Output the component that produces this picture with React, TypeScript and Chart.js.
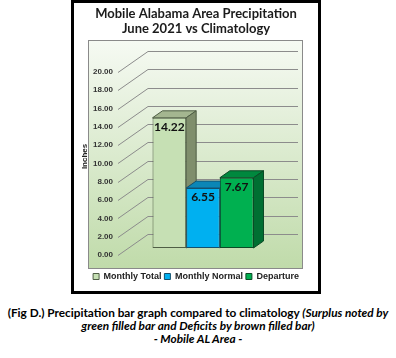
import React, { useEffect, useRef } from 'react';
import { Chart, registerables } from 'chart.js';

Chart.register(...registerables);

// ---------- data ----------
const CATEGORIES = ['June 2021'];
const SERIES_NAMES = ['Monthly Total', 'Monthly Normal', 'Departure'];
const MONTHLY_TOTAL = [14.22];
const MONTHLY_NORMAL = [6.55];
const DEPARTURE = [7.67];
const Y_MIN = 0;
const Y_MAX = 20;
const Y_STEP = 2;
const TITLE_LINES = ['Mobile Alabama Area Precipitation', 'June 2021 vs Climatology'];
const AXIS_TITLE = 'Inches';
const CAPTION_LINE1_PLAIN = '(Fig D.) Precipitation bar graph compared to climatology ';
const CAPTION_LINE1_ITALIC = '(Surplus noted by';
const CAPTION_LINE2 = 'green filled bar and Deficits by brown filled bar)';
const CAPTION_LINE3 = '- Mobile AL Area -';

// ---------- styles ----------
const FRONT = ['#c6e0b4', '#00b0f0', '#00b050'];
const TOP = ['#a4b690', '#0b86b6', '#00883e'];
const SIDE = ['#7f8e6c', '#086c94', '#006f32'];
const EDGE = ['#4f5e45', '#14506d', '#0b4a26'];
const BAR_DX = 10;
const BAR_DY = -7;
const WALL_DX = 30;
const WALL_DY = -21;
const LABEL_DROP = 7;
const GRID_RIGHT = 298;

const threeD = {
  id: 'threeD',
  beforeDraw(chart: any) {
    const ctx = chart.ctx;
    ctx.save();
    ctx.fillStyle = '#ffffff';
    ctx.fillRect(0, 0, chart.width, chart.height);
    const g = ctx.createLinearGradient(0, 40, 0, 268);
    g.addColorStop(0, '#f6faf3');
    g.addColorStop(1, '#c0dbaa');
    ctx.fillStyle = g;
    ctx.fillRect(88, 40, 214, 228);
    ctx.strokeStyle = '#8a8a8a';
    ctx.lineWidth = 1;
    ctx.strokeRect(88.5, 40.5, 214, 228);
    ctx.strokeStyle = '#000000';
    ctx.lineWidth = 3;
    ctx.strokeRect(72.5, 1.5, 247, 291);
    ctx.restore();
  },
  beforeDatasetsDraw(chart: any) {
    const { ctx, chartArea, scales } = chart;
    const ys = scales.y;
    ctx.save();
    ctx.strokeStyle = '#8c8c8c';
    ctx.lineWidth = 1;
    for (const t of ys.ticks) {
      const p = Math.round(ys.getPixelForValue(t.value)) + 0.5;
      ctx.beginPath();
      ctx.moveTo(chartArea.left, p + LABEL_DROP);
      ctx.lineTo(chartArea.left + WALL_DX, p + LABEL_DROP + WALL_DY);
      ctx.lineTo(GRID_RIGHT, p + LABEL_DROP + WALL_DY);
      ctx.stroke();
    }
    chart.data.datasets.forEach((_ds: any, i: number) => {
      const meta = chart.getDatasetMeta(i);
      meta.data.forEach((el: any) => {
        const { x, y, base, width } = el.getProps(['x', 'y', 'base', 'width'], true);
        const l = x - width / 2;
        const r = x + width / 2;
        ctx.lineWidth = 1;
        ctx.strokeStyle = EDGE[i];
        // top face
        ctx.beginPath();
        ctx.moveTo(l, y);
        ctx.lineTo(r, y);
        ctx.lineTo(r + BAR_DX, y + BAR_DY);
        ctx.lineTo(l + BAR_DX, y + BAR_DY);
        ctx.closePath();
        ctx.fillStyle = TOP[i];
        ctx.fill();
        ctx.stroke();
        // side face
        ctx.beginPath();
        ctx.moveTo(r, y);
        ctx.lineTo(r + BAR_DX, y + BAR_DY);
        ctx.lineTo(r + BAR_DX, base + BAR_DY);
        ctx.lineTo(r, base);
        ctx.closePath();
        ctx.fillStyle = SIDE[i];
        ctx.fill();
        ctx.stroke();
      });
    });
    ctx.restore();
  },
  afterDatasetsDraw(chart: any) {
    const ctx = chart.ctx;
    ctx.save();
    ctx.fillStyle = '#111111';
    ctx.font = 'bold 12px Lato';
    ctx.textAlign = 'center';
    ctx.textBaseline = 'middle';
    chart.data.datasets.forEach((ds: any, i: number) => {
      const meta = chart.getDatasetMeta(i);
      meta.data.forEach((el: any, j: number) => {
        const v = ds.data[j];
        ctx.fillText(Number(v).toFixed(2), el.x, el.y + 9);
      });
    });
    ctx.restore();
  },
};

export default function App() {
  const ref = useRef<HTMLCanvasElement | null>(null);

  useEffect(() => {
    if (!ref.current) return;
    const seriesValues = [MONTHLY_TOTAL, MONTHLY_NORMAL, DEPARTURE];
    const chart = new Chart(ref.current, {
      type: 'bar',
      data: {
        labels: CATEGORIES,
        datasets: SERIES_NAMES.map((name, i) => ({
          label: name,
          data: seriesValues[i],
          backgroundColor: FRONT[i],
          borderColor: EDGE[i],
          borderWidth: 1,
          borderSkipped: false,
          categoryPercentage: 0.594,
          barPercentage: 1,
        })),
      },
      options: {
        responsive: false,
        animation: false,
        devicePixelRatio: 1,
        layout: { padding: { left: 80, right: 84, top: 0, bottom: 9 } },
        plugins: {
          tooltip: { enabled: false },
          title: {
            display: true,
            text: TITLE_LINES,
            color: '#1b1b1b',
            font: { family: 'Lato', size: 13, weight: 'bold', lineHeight: 1.15 },
            padding: { top: 6, bottom: 29 },
          },
          legend: {
            display: true,
            position: 'bottom',
            labels: {
              boxWidth: 6,
              boxHeight: 6,
              padding: 3,
              color: '#222222',
              font: { family: 'Liberation Sans', size: 9, weight: 'bold' },
            },
          },
        },
        scales: {
          x: {
            display: true,
            grid: { display: false, drawTicks: false },
            border: { display: false },
            ticks: { display: false },
            afterFit: (s: any) => { s.height = 21; },
          },
          y: {
            min: Y_MIN,
            max: Y_MAX,
            grid: { display: false, drawTicks: false },
            border: { display: false },
            ticks: {
              stepSize: Y_STEP,
              padding: 5,
              labelOffset: LABEL_DROP,
              color: '#333333',
              font: { family: 'Liberation Sans', size: 8, weight: 'bold' },
              callback: (v: any) => Number(v).toFixed(2),
            },
            title: {
              display: true,
              text: AXIS_TITLE,
              color: '#222222',
              padding: 0,
              font: { family: 'Liberation Sans', size: 8, weight: 'bold' },
            },
            afterFit: (s: any) => { s.width = 38; },
          },
          yR: {
            type: 'linear',
            position: 'right',
            display: true,
            grid: { display: false, drawTicks: false },
            border: { display: false },
            ticks: { display: false },
            afterFit: (s: any) => { s.width = 24; },
          },
        },
      },
      plugins: [threeD],
    } as any);
    return () => chart.destroy();
  }, []);

  return (
    <div style={{ position: 'absolute', left: 0, top: 0, width: 396, height: 358, background: '#ffffff' }}>
      <canvas ref={ref} width={396} height={300} style={{ display: 'block', width: 396, height: 300 }} />
      <div
        style={{
          position: 'absolute',
          left: 0,
          top: 306,
          width: 396,
          textAlign: 'center',
          fontFamily: 'Lato',
          fontWeight: 'bold',
          fontSize: '11.8px',
          lineHeight: '13px',
          color: '#000000',
          whiteSpace: 'nowrap',
        }}
      >
        {CAPTION_LINE1_PLAIN}
        <i>{CAPTION_LINE1_ITALIC}</i>
        <br />
        <i>{CAPTION_LINE2}</i>
        <br />
        <i>{CAPTION_LINE3}</i>
      </div>
    </div>
  );
}
